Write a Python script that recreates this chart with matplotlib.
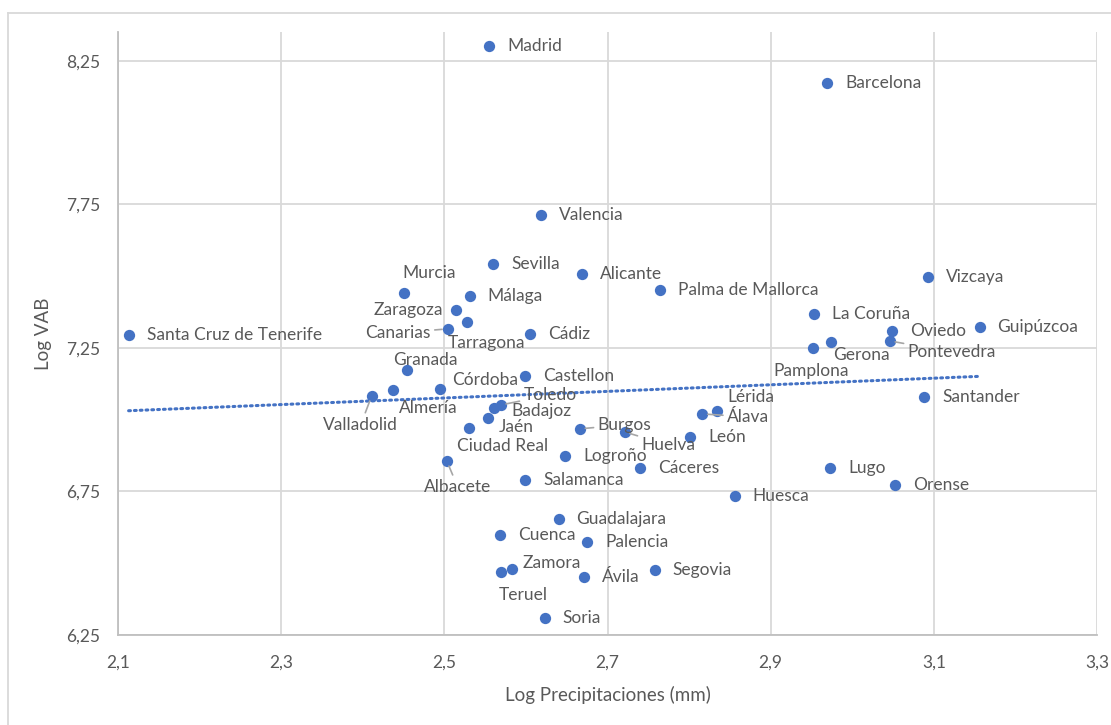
import numpy as np
import matplotlib
matplotlib.use('Agg')
import matplotlib.pyplot as plt
from matplotlib.ticker import FuncFormatter, FixedLocator
from matplotlib.lines import Line2D

plt.rcParams['font.family'] = ['Lato', 'DejaVu Sans']

# provincias: log precipitaciones (mm) vs log VAB
provincias = ['Madrid', 'Barcelona', 'Valencia', 'Sevilla', 'Alicante', 'Palma de Mallorca',
              'Vizcaya', 'Murcia', 'Málaga', 'Zaragoza', 'Tarragona', 'Canarias', 'Cádiz',
              'Santa Cruz de Tenerife', 'La Coruña', 'Oviedo', 'Pontevedra', 'Gerona',
              'Pamplona', 'Guipúzcoa', 'Granada', 'Castellon', 'Córdoba', 'Almería',
              'Valladolid', 'Toledo', 'Badajoz', 'Jaén', 'Ciudad Real', 'Lérida', 'Álava',
              'Santander', 'Burgos', 'Huelva', 'León', 'Logroño', 'Albacete', 'Cáceres',
              'Lugo', 'Salamanca', 'Orense', 'Huesca', 'Guadalajara', 'Cuenca', 'Palencia',
              'Zamora', 'Teruel', 'Ávila', 'Segovia', 'Soria']
log_precip = [2.555, 2.969, 2.618, 2.560, 2.669, 2.764,
              3.093, 2.450, 2.531, 2.514, 2.528, 2.504, 2.605,
              2.113, 2.953, 3.049, 3.046, 2.974,
              2.952, 3.156, 2.454, 2.599, 2.495, 2.437,
              2.411, 2.569, 2.561, 2.553, 2.530, 2.834, 2.816,
              3.088, 2.666, 2.721, 2.801, 2.648, 2.503, 2.740,
              2.973, 2.599, 3.052, 2.856, 2.640, 2.568, 2.675,
              2.583, 2.569, 2.671, 2.758, 2.623]
log_vab = [8.302, 8.173, 7.713, 7.543, 7.508, 7.452,
           7.497, 7.442, 7.431, 7.382, 7.341, 7.316, 7.299,
           7.295, 7.368, 7.309, 7.274, 7.271,
           7.250, 7.323, 7.173, 7.152, 7.107, 7.104,
           7.083, 7.051, 7.041, 7.006, 6.971, 7.030, 7.020,
           7.079, 6.968, 6.957, 6.940, 6.874, 6.856, 6.832,
           6.832, 6.790, 6.773, 6.734, 6.654, 6.598, 6.574,
           6.480, 6.470, 6.452, 6.476, 6.309]

x_ticks = [2.1, 2.3, 2.5, 2.7, 2.9, 3.1, 3.3]
y_ticks = [6.25, 6.75, 7.25, 7.75, 8.25]

# label placement (offset in pixels, alignment) where it is not the default right side
label_pos = {
    'Murcia': (26, 20, 'center'), 'Zaragoza': (-13, 0, 'right'), 'Tarragona': (19, -21, 'center'),
    'Canarias': (-17, -4, 'right'), 'Pontevedra': (18, -11, 'left'), 'Gerona': (30, -13, 'center'),
    'Pamplona': (-2, -23, 'center'), 'Granada': (19, 10, 'center'), 'Córdoba': (12, 9, 'left'),
    'Almería': (35, -18, 'center'), 'Valladolid': (-11, -29, 'center'), 'Toledo': (23, 10, 'left'),
    'Badajoz': (17, -3, 'left'), 'Jaén': (11, -9, 'left'), 'Ciudad Real': (34, -18, 'center'),
    'Albacete': (11, -26, 'center'), 'Burgos': (18, 4, 'left'), 'Huelva': (17, -13, 'left'),
    'Lérida': (11, 14, 'left'), 'Álava': (25, -3, 'left'), 'Zamora': (11, 6, 'left'),
    'Teruel': (23, -23, 'center'),
}
leaders = ['Canarias', 'Pontevedra', 'Valladolid', 'Toledo', 'Albacete', 'Burgos', 'Huelva', 'Álava']

blue = '#4472C4'
txt = '#595959'

fig = plt.figure(figsize=(11.11, 7.25), dpi=100)
ax = fig.add_axes([118 / 1111, 1 - 635 / 725, (1097 - 118) / 1111, (635 - 32) / 725])

ax.scatter(log_precip, log_vab, s=66, color=blue, zorder=3, linewidths=0)

# linear trendline
coef = np.polyfit(log_precip, log_vab, 1)
xs = np.array([min(log_precip), max(log_precip)])
ax.plot(xs, np.polyval(coef, xs), color=blue, lw=2.2, ls=(0, (0.6, 1.3)),
        dash_capstyle='round', zorder=2)

for name, xv, yv in zip(provincias, log_precip, log_vab):
    dx, dy, ha = label_pos.get(name, (18, 0, 'left'))
    ap = None
    if name in leaders:
        ap = dict(arrowstyle='-', color='#A6A6A6', lw=1.2, shrinkA=1, shrinkB=4)
    ax.annotate(name, (xv, yv), xytext=(dx, dy), textcoords='offset pixels',
                ha=ha, va='center', fontsize=12.5, color=txt, arrowprops=ap, zorder=4)

ax.set_xlim(2.1, 3.3)
ax.set_ylim(6.25, 8.35)
ax.xaxis.set_major_locator(FixedLocator(x_ticks))
ax.yaxis.set_major_locator(FixedLocator(y_ticks))
comma = lambda v, p: f'{v:g}'.replace('.', ',')
ax.xaxis.set_major_formatter(FuncFormatter(comma))
ax.yaxis.set_major_formatter(FuncFormatter(comma))
ax.tick_params(length=0, labelsize=12.5, labelcolor=txt)
ax.tick_params(axis='x', pad=14)
ax.tick_params(axis='y', pad=13)
ax.grid(True, color='#D9D9D9', lw=1.3)
ax.set_axisbelow(True)
for s in ['top', 'right']:
    ax.spines[s].set_visible(False)
for s in ['left', 'bottom']:
    ax.spines[s].set_color('#BFBFBF')
    ax.spines[s].set_linewidth(1.3)

ax.set_xlabel('Log Precipitaciones (mm)', fontsize=13.5, color=txt, labelpad=11)
ax.set_ylabel('Log VAB', fontsize=13.5, color=txt, labelpad=10)

# chart area border (only top and left are inside the picture)
fig.add_artist(Line2D([8 / 1111, 8 / 1111], [0, 1 - 13 / 725], color='#D9D9D9', lw=1.3))
fig.add_artist(Line2D([8 / 1111, 1], [1 - 13 / 725, 1 - 13 / 725], color='#D9D9D9', lw=1.3))

fig.savefig('out.png', dpi=100, facecolor='white')
